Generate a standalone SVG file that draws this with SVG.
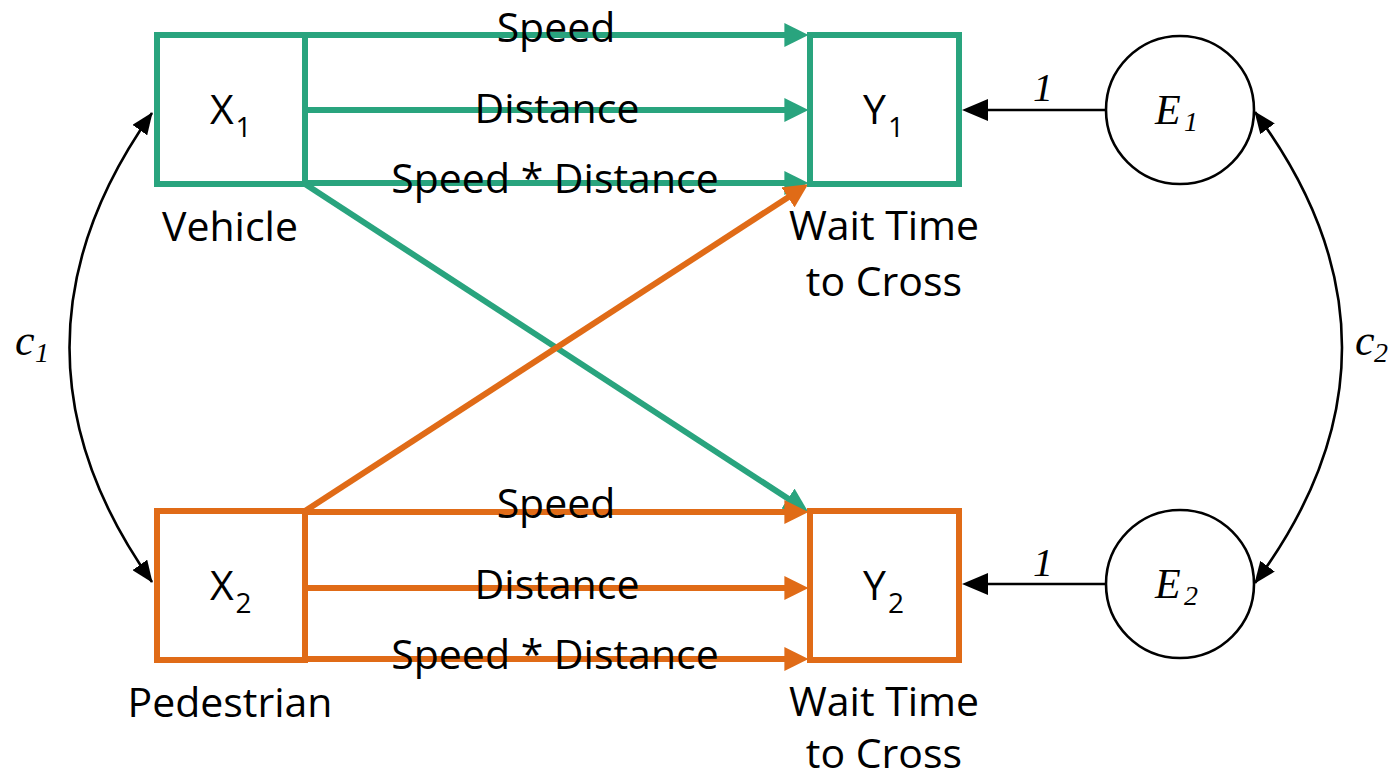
<svg xmlns="http://www.w3.org/2000/svg" width="1394" height="779" viewBox="0 0 1394 779">
<style>
.box{fill:#fff;stroke-width:6}
.g{stroke:#29a47e}
.o{stroke:#e06b17}
.cl{fill:none;stroke-width:6}
.bl{fill:none;stroke:#000;stroke-width:2.6}
.lbl{font-family:"Open Sans","Liberation Sans",sans-serif;font-size:41px;fill:#000}
.sub{font-size:28px}
.math{font-family:"Liberation Serif","DejaVu Serif",serif;font-style:italic;fill:#000}
</style>
<defs>
<marker id="ag" markerUnits="userSpaceOnUse" markerWidth="24" markerHeight="24" viewBox="0 0 22 22" refX="7" refY="11" orient="auto"><path d="M0,0 L22,11 L0,22 z" fill="#29a47e"/></marker>
<marker id="ao" markerUnits="userSpaceOnUse" markerWidth="24" markerHeight="24" viewBox="0 0 22 22" refX="7" refY="11" orient="auto"><path d="M0,0 L22,11 L0,22 z" fill="#e06b17"/></marker>
<marker id="ab" markerUnits="userSpaceOnUse" markerWidth="26" markerHeight="22" viewBox="0 0 26 22" refX="16" refY="11" orient="auto"><path d="M0,0 L26,11 L0,22 z" fill="#000"/></marker>
<marker id="ac" markerUnits="userSpaceOnUse" markerWidth="22" markerHeight="18" viewBox="0 0 22 18" refX="21" refY="9" orient="auto-start-reverse"><path d="M0,0 L22,9 L0,18 z" fill="#000"/></marker>
</defs>

<g id="connectors">
<line class="cl g" x1="305" y1="35" x2="792" y2="35" marker-end="url(#ag)"/>
<line class="cl g" x1="305" y1="110" x2="792" y2="110" marker-end="url(#ag)"/>
<line class="cl g" x1="305" y1="183" x2="792" y2="183" marker-end="url(#ag)"/>
<line class="cl g" x1="305" y1="184" x2="794.4" y2="502.8" marker-end="url(#ag)"/>
<line class="cl o" x1="305" y1="511" x2="794.4" y2="193.2" marker-end="url(#ao)"/>
<line class="cl o" x1="305" y1="512" x2="792" y2="512" marker-end="url(#ao)"/>
<line class="cl o" x1="305" y1="588" x2="792" y2="588" marker-end="url(#ao)"/>
<line class="cl o" x1="305" y1="659" x2="792" y2="659" marker-end="url(#ao)"/>
<line class="bl" x1="1105" y1="110" x2="972" y2="110" marker-end="url(#ab)"/>
<line class="bl" x1="1105" y1="584" x2="972" y2="584" marker-end="url(#ab)"/>
<path class="bl" d="M152,113 C42,268 42,427 152,582" marker-start="url(#ac)" marker-end="url(#ac)"/>
<path class="bl" d="M1255,112 C1371,268 1371,427 1255,583" marker-start="url(#ac)" marker-end="url(#ac)"/>
</g>

<g id="connector-labels">
<text class="lbl" x="556" y="42" text-anchor="middle">Speed</text>
<text class="lbl" x="557" y="123" text-anchor="middle">Distance</text>
<text class="lbl" x="555" y="193" text-anchor="middle">Speed * Distance</text>
<text class="lbl" x="556" y="518" text-anchor="middle">Speed</text>
<text class="lbl" x="557" y="599" text-anchor="middle">Distance</text>
<text class="lbl" x="555" y="669" text-anchor="middle">Speed * Distance</text>
<text class="math" x="1043" y="101" font-size="40" text-anchor="middle">1</text>
<text class="math" x="1043" y="576" font-size="40" text-anchor="middle">1</text>
<text class="math" x="15" y="355" font-size="44">c<tspan x="35" y="362" font-size="28">1</tspan></text>
<text class="math" x="1355" y="355" font-size="44">c<tspan x="1374" y="362" font-size="28">2</tspan></text>
</g>

<g id="node-x1">
<rect class="box g" x="157" y="35" width="148" height="149"/>
<text class="lbl" x="210" y="124">X<tspan class="sub" x="235.5" y="137">1</tspan></text>
<text class="lbl" x="230" y="241" text-anchor="middle">Vehicle</text>
</g>
<g id="node-y1">
<rect class="box g" x="810" y="35" width="149" height="149"/>
<text class="lbl" x="863" y="124">Y<tspan class="sub" x="888" y="137">1</tspan></text>
<text class="lbl" x="884" y="240" text-anchor="middle">Wait Time</text>
<text class="lbl" x="884" y="296" text-anchor="middle">to Cross</text>
</g>
<g id="node-x2">
<rect class="box o" x="157" y="511" width="148" height="149"/>
<text class="lbl" x="210" y="600">X<tspan class="sub" x="235.5" y="613">2</tspan></text>
<text class="lbl" x="230" y="717" text-anchor="middle">Pedestrian</text>
</g>
<g id="node-y2">
<rect class="box o" x="810" y="511" width="149" height="149"/>
<text class="lbl" x="863" y="600">Y<tspan class="sub" x="888" y="613">2</tspan></text>
<text class="lbl" x="884" y="716" text-anchor="middle">Wait Time</text>
<text class="lbl" x="884" y="768" text-anchor="middle">to Cross</text>
</g>
<g id="node-e1">
<circle cx="1180" cy="110" r="74" fill="#fff" stroke="#000" stroke-width="2.6"/>
<text class="math" x="1155" y="124" font-size="42">E<tspan x="1184" y="131" font-size="28">1</tspan></text>
</g>
<g id="node-e2">
<circle cx="1180" cy="584" r="74" fill="#fff" stroke="#000" stroke-width="2.6"/>
<text class="math" x="1155" y="598" font-size="42">E<tspan x="1184" y="605" font-size="28">2</tspan></text>
</g>
</svg>
